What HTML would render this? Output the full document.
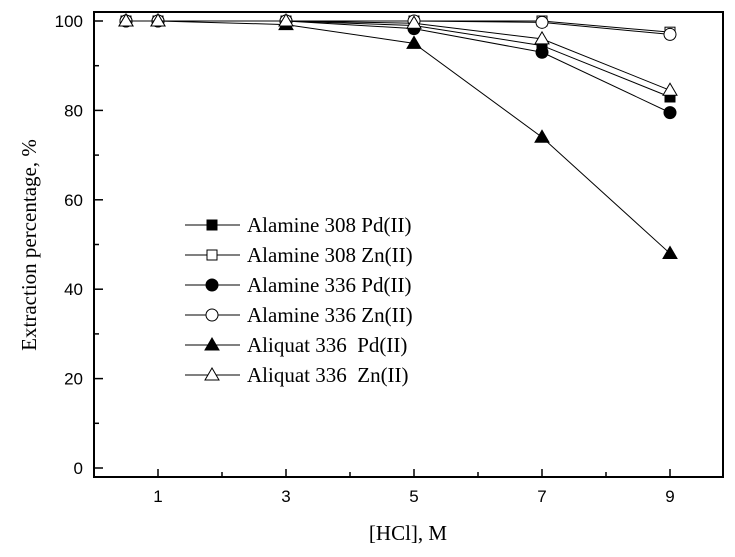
<!DOCTYPE html>
<html><head><meta charset="utf-8"><style>
body{margin:0;background:#fff;}
svg{display:block;}
</style></head><body>
<svg id="chart" width="735" height="557" xmlns="http://www.w3.org/2000/svg">
<g id="axes"></g><g id="series"></g><g id="legend"></g>
</svg>
<script>
const xValues=[0.5,1,3,5,7,9];
const a308Pd=[100,100,100,99,94.5,83];
const a308Zn=[100,100,100,100,100,97.5];
const a336Pd=[100,100,100,98.3,93,79.5];
const a336Zn=[100,100,100,100,99.7,97];
const aliPd=[100,100,99.2,95,74,48];
const aliZn=[100,100,100,99.5,96,84.5];
const xTicks=[1,3,5,7,9];
const xMinor=[2,4,6,8];
const yTicks=[0,20,40,60,80,100];
const yMinor=[10,30,50,70,90];
const seriesNames=["Alamine 308 Pd(II)","Alamine 308 Zn(II)","Alamine 336 Pd(II)","Alamine 336 Zn(II)","Aliquat 336  Pd(II)","Aliquat 336  Zn(II)"];

const NS="http://www.w3.org/2000/svg";
const L=94,R=723,T=12,B=477;
const xs=v=>158+(v-1)*64;
const ys=v=>468-v*4.47;
function el(tag,attrs,parent){const e=document.createElementNS(NS,tag);for(const k in attrs)e.setAttribute(k,attrs[k]);parent.appendChild(e);return e;}
const axes=document.getElementById('axes');
const frame=el('rect',{x:L,y:T,width:R-L,height:B-T,fill:'none',stroke:'#000','stroke-width':2},axes);


xTicks.forEach(v=>{
  const t=el('line',{x1:xs(v),x2:xs(v),y1:B,y2:B-8,stroke:'#000','stroke-width':1.5},axes);
  
  
  const lb=el('text',{x:xs(v),y:502,'text-anchor':'middle','font-family':'Liberation Sans, sans-serif','font-size':17},axes);
  lb.textContent=v;
  
  
});
xMinor.forEach(v=>{
  const t=el('line',{x1:xs(v),x2:xs(v),y1:B,y2:B-5,stroke:'#000','stroke-width':1.5},axes);
  
  
});
yTicks.forEach(v=>{
  const t=el('line',{x1:L,x2:L+9,y1:ys(v),y2:ys(v),stroke:'#000','stroke-width':1.5},axes);
  
  
  const lb=el('text',{x:L-11,y:ys(v)+6,'text-anchor':'end','font-family':'Liberation Sans, sans-serif','font-size':17},axes);
  lb.textContent=v;
  
  
});
yMinor.forEach(v=>{
  const t=el('line',{x1:L,x2:L+5,y1:ys(v),y2:ys(v),stroke:'#000','stroke-width':1.5},axes);
  
  
});
const xt=el('text',{x:408,y:540,'text-anchor':'middle','font-family':'Liberation Serif, serif','font-size':21},axes);
xt.textContent='[HCl], M';


const yt=el('text',{x:0,y:0,'text-anchor':'middle','font-family':'Liberation Serif, serif','font-size':21,transform:'translate(36,245) rotate(-90)'},axes);
yt.textContent='Extraction percentage, %';



function marker(g,type,x,y){
  const fill=(type.endsWith('f'))?'#000':'#fff';
  const s=type[0];
  let m;
  if(s==='s') m=el('rect',{x:x-5,y:y-5,width:10,height:10,fill,stroke:'#000','stroke-width':1},g);
  else if(s==='c') m=el('circle',{cx:x,cy:y,r:6,fill,stroke:'#000','stroke-width':1},g);
  else m=el('polygon',{points:`${x},${y-7} ${x-7},${y+5} ${x+7},${y+5}`,fill,stroke:'#000','stroke-width':1},g);
  return m;
}
const seriesData=[a308Pd,a308Zn,a336Pd,a336Zn,aliPd,aliZn];
const types=['sf','so','cf','co','tf','to'];
const slugs=['alamine-308-pd','alamine-308-zn','alamine-336-pd','alamine-336-zn','aliquat-336-pd','aliquat-336-zn'];
const sg=document.getElementById('series');
seriesData.forEach((d,i)=>{
  const g=el('g',{},sg);
  
  
  const ln=el('polyline',{points:d.map((v,j)=>xs(xValues[j])+','+ys(v)).join(' '),fill:'none',stroke:'#000','stroke-width':1},g);
  
  
  d.forEach((v,j)=>{
    const m=marker(g,types[i],xs(xValues[j]),ys(v));
    
    
  });
});
const lg=document.getElementById('legend');
seriesNames.forEach((n,i)=>{
  const y=225+i*30;
  const g=el('g',{},lg);
  
  
  el('line',{x1:185,x2:240,y1:y,y2:y,stroke:'#000','stroke-width':1},g);
  marker(g,types[i],212,y);
  const t=el('text',{x:247,y:y+7,'font-family':'Liberation Serif, serif','font-size':21},g);
  t.style.whiteSpace='pre';
  t.textContent=n;
});
</script>
</body></html>
